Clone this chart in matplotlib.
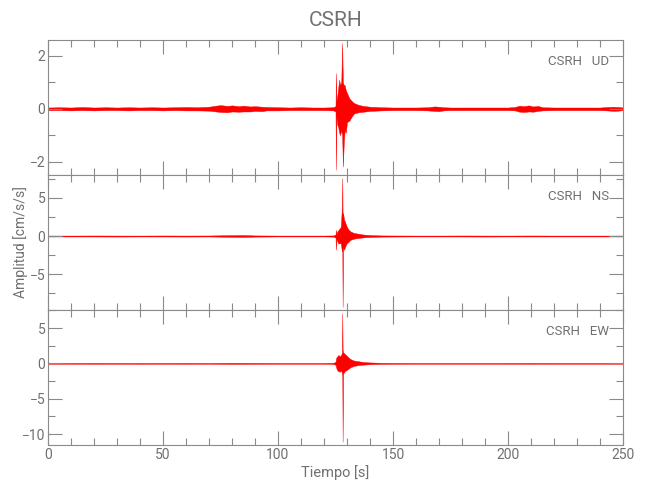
import matplotlib
matplotlib.use("Agg")
import matplotlib.pyplot as plt
from matplotlib.ticker import MultipleLocator

# -----------------------
# Data (envelopes, in cm/s/s)
# -----------------------
TITLE = "CSRH"
COMPONENTS = ["UD", "NS", "EW"]

t_ud = [0, 5, 10, 15, 20, 25, 30, 35, 40, 45, 50, 55, 60, 65, 70, 73, 75, 78,
        80, 83, 85, 88, 90, 93, 95, 100, 105, 110, 115, 120, 124, 125.0, 125.2,
        125.4, 125.8, 126.2, 126.6, 127.0, 127.5, 127.9, 128.2, 128.6, 129.0,
        129.5, 130.0, 131.0, 132.0, 133, 135, 137, 140, 145, 150, 155, 160, 165,
        168, 170, 172, 175, 180, 185, 190, 195, 200, 203, 205, 207, 209, 211,
        213, 215, 220, 225, 230, 235, 240, 243, 246, 248, 250]
up_ud = [0.05, 0.06, 0.05, 0.07, 0.05, 0.06, 0.05, 0.06, 0.05, 0.06, 0.05, 0.06,
         0.07, 0.06, 0.08, 0.12, 0.14, 0.11, 0.13, 0.10, 0.12, 0.09, 0.10, 0.08,
         0.07, 0.06, 0.05, 0.06, 0.05, 0.05, 0.06, 0.10, 1.35, 0.30, 0.50, 0.80,
         1.10, 0.90, 1.00, 2.48, 1.00, 0.90, 0.90, 0.70, 0.60, 0.40, 0.30, 0.22,
         0.15, 0.11, 0.08, 0.06, 0.05, 0.05, 0.05, 0.06, 0.09, 0.08, 0.06, 0.05,
         0.05, 0.05, 0.05, 0.05, 0.05, 0.07, 0.12, 0.10, 0.13, 0.09, 0.11, 0.06,
         0.05, 0.05, 0.05, 0.05, 0.05, 0.07, 0.08, 0.07, 0.05]
lo_ud = [-0.05, -0.05, -0.06, -0.05, -0.06, -0.05, -0.05, -0.06, -0.05, -0.05,
         -0.06, -0.05, -0.06, -0.06, -0.07, -0.10, -0.12, -0.13, -0.10, -0.11,
         -0.10, -0.10, -0.08, -0.09, -0.06, -0.06, -0.05, -0.05, -0.05, -0.05,
         -0.06, -0.10, -2.30, -0.30, -0.60, -0.70, -0.90, -1.00, -0.80, -1.00,
         -2.18, -1.30, -0.80, -0.90, -0.50, -0.45, -0.30, -0.18, -0.13, -0.11,
         -0.08, -0.06, -0.05, -0.05, -0.05, -0.06, -0.08, -0.09, -0.06, -0.05,
         -0.05, -0.05, -0.05, -0.05, -0.05, -0.06, -0.11, -0.12, -0.10, -0.11,
         -0.08, -0.06, -0.05, -0.05, -0.05, -0.05, -0.05, -0.06, -0.08, -0.07,
         -0.05]

t_ns = [0, 10, 20, 30, 40, 50, 60, 70, 80, 85, 90, 100, 110, 120, 124, 125.0,
        125.2, 125.4, 125.8, 126.3, 126.8, 127.3, 127.8, 127.95, 128.1, 128.3,
        128.7, 129.2, 129.8, 130.5, 131.5, 133, 135, 137, 140, 145, 150, 160,
        170, 180, 190, 200, 210, 220, 230, 240, 250]
up_ns = [0.06, 0.06, 0.07, 0.06, 0.06, 0.07, 0.06, 0.07, 0.12, 0.13, 0.08, 0.06,
         0.06, 0.06, 0.08, 0.20, 0.80, 0.30, 0.60, 0.80, 1.00, 1.20, 3.90, 7.60,
         2.50, 3.00, 2.20, 1.80, 1.30, 0.90, 0.60, 0.40, 0.30, 0.20, 0.13, 0.08,
         0.07, 0.06, 0.06, 0.07, 0.06, 0.06, 0.07, 0.06, 0.06, 0.06, 0.06]
lo_ns = [-0.06, -0.06, -0.06, -0.07, -0.06, -0.06, -0.07, -0.06, -0.11, -0.12,
         -0.08, -0.06, -0.06, -0.06, -0.08, -0.20, -1.80, -0.40, -0.70, -1.00,
         -0.90, -1.00, -2.00, -1.50, -9.30, -1.50, -1.80, -1.40, -1.00, -0.80,
         -0.50, -0.35, -0.25, -0.18, -0.13, -0.08, -0.07, -0.06, -0.06, -0.06,
         -0.07, -0.06, -0.06, -0.06, -0.06, -0.06, -0.06]

t_ew = [0, 10, 20, 30, 40, 50, 60, 70, 80, 90, 100, 110, 120, 124, 125.0, 125.3,
        125.8, 126.3, 126.8, 127.3, 127.8, 127.95, 128.1, 128.3, 128.8, 129.5,
        130.5, 131.5, 133, 135, 137, 140, 145, 150, 160, 170, 180, 190, 200, 210,
        220, 230, 240, 250]
up_ew = [0.06, 0.06, 0.07, 0.06, 0.06, 0.06, 0.07, 0.06, 0.08, 0.07, 0.06, 0.06,
         0.06, 0.08, 0.20, 0.80, 1.00, 1.20, 1.00, 1.10, 1.50, 7.10, 2.00, 1.60,
         1.40, 1.20, 0.90, 0.60, 0.40, 0.30, 0.20, 0.13, 0.08, 0.07, 0.06, 0.06,
         0.06, 0.06, 0.06, 0.07, 0.06, 0.06, 0.06, 0.06]
lo_ew = [-0.06, -0.06, -0.06, -0.06, -0.07, -0.06, -0.06, -0.06, -0.08, -0.07,
         -0.06, -0.06, -0.06, -0.08, -0.20, -0.60, -1.00, -1.10, -1.20, -1.00,
         -1.30, -2.00, -11.10, -1.50, -1.20, -1.00, -0.80, -0.55, -0.35, -0.25,
         -0.18, -0.12, -0.08, -0.07, -0.06, -0.06, -0.06, -0.06, -0.06, -0.06,
         -0.06, -0.06, -0.06, -0.06]

times = [t_ud, t_ns, t_ew]
uppers = [up_ud, up_ns, up_ew]
lowers = [lo_ud, lo_ns, lo_ew]

ylims = [(-2.5, 2.6), (-9.7, 8.0), (-11.55, 7.55)]
major_steps = [2, 5, 5]
minor_steps = [1, 2.5, 2.5]

# -----------------------
# Style
# -----------------------
GRAY = "#8a8a8a"
TEXT = "#707070"
plt.rcParams["font.family"] = ["Roboto", "DejaVu Sans"]

fig, axes = plt.subplots(3, 1, sharex=True, figsize=(6.5, 5), dpi=100)
fig.subplots_adjust(left=0.0738, right=0.9585, bottom=0.11, top=0.92, hspace=0)

for i, ax in enumerate(axes):
    ax.fill_between(times[i], lowers[i], uppers[i], color="red",
                    linewidth=0.3, edgecolor="red")
    ax.set_xlim(0, 250)
    ax.set_ylim(*ylims[i])
    ax.yaxis.set_major_locator(MultipleLocator(major_steps[i]))
    ax.yaxis.set_minor_locator(MultipleLocator(minor_steps[i]))
    ax.xaxis.set_major_locator(MultipleLocator(50))
    ax.xaxis.set_minor_locator(MultipleLocator(10))
    ax.tick_params(which="both", direction="in", top=True, right=True,
                   color=GRAY, labelcolor=TEXT, labelsize=10, width=0.8)
    ax.tick_params(which="major", length=10, pad=2)
    ax.tick_params(which="minor", length=5)
    for s in ax.spines.values():
        s.set_color(GRAY)
        s.set_linewidth(0.8)
    ax.text(0.975, 0.84, "CSRH   " + COMPONENTS[i], transform=ax.transAxes,
            ha="right", va="center", fontsize=9.5, color=TEXT)

axes[-1].set_xlabel("Tiempo [s]", fontsize=10.5, color=TEXT, labelpad=2)
axes[1].set_ylabel("Amplitud [cm/s/s]", fontsize=10, color=TEXT)
axes[1].yaxis.set_label_coords(-0.034, 0.5)
axes[0].set_title(TITLE, fontsize=15, color=TEXT, pad=10)

plt.savefig("out.png")
